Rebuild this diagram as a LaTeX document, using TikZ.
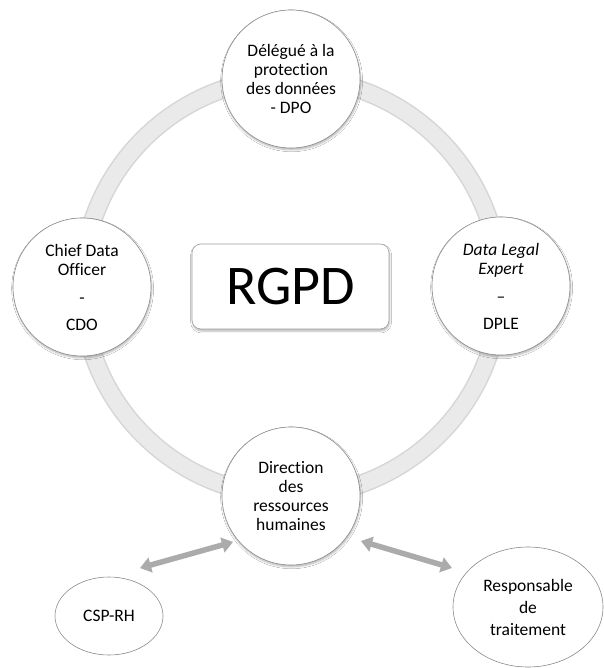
\documentclass[tikz,border=0pt]{standalone}
\usepackage{fontspec}
\setmainfont[Ligatures={NoCommon}]{Carlito}
\usetikzlibrary{arrows.meta,shapes.geometric,shadows.blur}
\definecolor{ringedge}{HTML}{D6D6D6}
\definecolor{ringfill}{HTML}{EAEAEA}
\definecolor{outline}{HTML}{8A8A8A}
\definecolor{arrowgray}{HTML}{ABABAB}
\tikzset{
  txt/.style={font=\fontsize{17.5}{19}\selectfont, align=center, text=black},
  role/.style={txt, circle, draw=outline, line width=0.6pt, fill=white,
    minimum size=138pt, inner sep=0pt,
    blur shadow={shadow xshift=0.6pt, shadow yshift=-1.8pt, shadow blur steps=6, shadow opacity=30}},
  oval/.style={txt, ellipse, draw=outline, line width=0.6pt, fill=white, inner sep=0pt},
  titlebox/.style={rounded corners=9pt, draw=outline!80, line width=0.6pt, fill=white,
    minimum width=197pt, minimum height=85pt, inner sep=0pt,
    font=\fontsize{56}{60}\selectfont,
    blur shadow={shadow xshift=0.6pt, shadow yshift=-2pt, shadow blur steps=6, shadow opacity=30}},
  link/.style={draw=arrowgray, line width=5.5pt,
    {Triangle[width=15pt,length=11pt]}-{Triangle[width=15pt,length=11pt]}}
}
\begin{document}
\begin{tikzpicture}[x=1pt,y=-1pt]
\useasboundingbox (0,0) rectangle (603,668);
\fill[white] (0,0) rectangle (603,668);

% grey ring joining the four roles
\coordinate (ringc) at (291,287);
\draw[ringedge, line width=19pt] (ringc) circle[radius=209pt];
\draw[ringfill, line width=16pt] (ringc) circle[radius=209pt];

% central label
\node[titlebox] (rgpd) at (290.5,286.5) {RGPD};

% the four roles on the ring
\node[role] (dpo) at (291,79) {Délégué à la\\protection\\des données\\- DPO};
\node[role] (cdo) at (82,287) {Chief Data\\Officer\\[9pt]-\\[8pt]CDO};
\node[role] (dple) at (501,286) {\textit{Data Legal}\\\textit{Expert}\\[9pt]–\\[8pt]DPLE};
\node[role] (drh) at (291,496) {Direction\\des\\ressources\\humaines};

% satellite entities
\node[oval, minimum width=108pt, minimum height=78pt] (csp) at (109,616) {CSP-RH};
\node[oval, minimum width=150pt, minimum height=120pt,
      font=\fontsize{17.5}{22}\selectfont] (resp) at (528,607) {Responsable\\de\\traitement};

% two-way links towards the HR direction
\coordinate (l1) at (233,542);
\coordinate (l2) at (140,568);
\coordinate (r1) at (361,541);
\coordinate (r2) at (452,568);
\draw[link] (l1) -- (l2);
\draw[link] (r1) -- (r2);
\end{tikzpicture}
\end{document}
